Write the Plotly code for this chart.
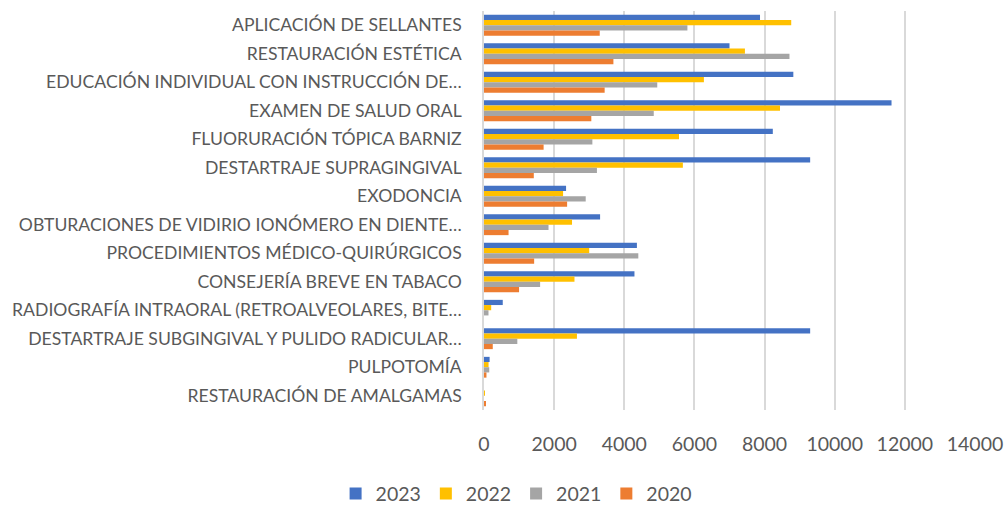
import plotly.graph_objects as go

categories = [
    "APLICACIÓN DE SELLANTES",
    "RESTAURACIÓN ESTÉTICA",
    "EDUCACIÓN INDIVIDUAL CON INSTRUCCIÓN DE…",
    "EXAMEN DE SALUD ORAL",
    "FLUORURACIÓN TÓPICA BARNIZ",
    "DESTARTRAJE SUPRAGINGIVAL",
    "EXODONCIA",
    "OBTURACIONES DE VIDIRIO IONÓMERO EN DIENTE…",
    "PROCEDIMIENTOS MÉDICO-QUIRÚRGICOS",
    "CONSEJERÍA BREVE EN TABACO",
    "RADIOGRAFÍA INTRAORAL (RETROALVEOLARES, BITE…",
    "DESTARTRAJE SUBGINGIVAL Y PULIDO RADICULAR…",
    "PULPOTOMÍA",
    "RESTAURACIÓN DE AMALGAMAS",
]

v2023 = [7870, 7000, 8820, 11620, 8235, 9300, 2340, 3310, 4360, 4290, 535, 9300, 160, 0]
v2022 = [8760, 7440, 6270, 8440, 5560, 5670, 2255, 2510, 3000, 2580, 205, 2650, 130, 10]
v2021 = [5800, 8710, 4940, 4840, 3090, 3220, 2900, 1840, 4400, 1600, 128, 950, 150, 0]
v2020 = [3300, 3690, 3440, 3060, 1700, 1420, 2370, 700, 1430, 1000, 0, 250, 70, 40]

series_names = ["2023", "2022", "2021", "2020"]
series_values = [v2023, v2022, v2021, v2020]
series_colors = ["#4472C4", "#FFC000", "#A5A5A5", "#ED7D31"]

x_ticks = [0, 2000, 4000, 6000, 8000, 10000, 12000, 14000]

fig = go.Figure()
for name, vals, col in zip(series_names, series_values, series_colors):
    fig.add_trace(go.Bar(
        y=categories, x=vals, name=name, orientation="h",
        marker=dict(color=col, line=dict(width=0)),
    ))

text_color = "#595959"
fig.update_layout(
    width=1008, height=505,
    paper_bgcolor="white", plot_bgcolor="white",
    barmode="group", bargap=0.27, bargroupgap=0,
    margin=dict(l=484, r=33, t=11, b=95, autoexpand=False),
    font=dict(family="Lato", color=text_color),
    showlegend=True,
    legend=dict(
        orientation="h", xref="container", yref="container",
        x=0.512, xanchor="center", y=0.022, yanchor="middle",
        font=dict(size=19.5, color=text_color, family="Lato"),
        traceorder="normal",
    ),
    xaxis=dict(
        range=[0, 14000], tickvals=x_ticks, ticktext=[str(t) for t in x_ticks],
        showgrid=True, gridcolor="#D9D9D9", gridwidth=1.5,
        zeroline=False, showline=False, ticks="",
        tickfont=dict(size=19.5, color=text_color, family="Lato"),
        ticklabelstandoff=20,
    ),
    yaxis=dict(
        autorange="reversed", type="category",
        showgrid=False, zeroline=False,
        showline=True, linecolor="#D9D9D9", linewidth=1.5,
        ticks="", tickfont=dict(size=17.6, color=text_color, family="Lato"),
        ticklabelstandoff=17,
    ),
)

fig.write_html(
    "out.html",
    config={"displayModeBar": False},
    post_script="document.body.style.margin='0';document.body.style.padding='0';",
)
